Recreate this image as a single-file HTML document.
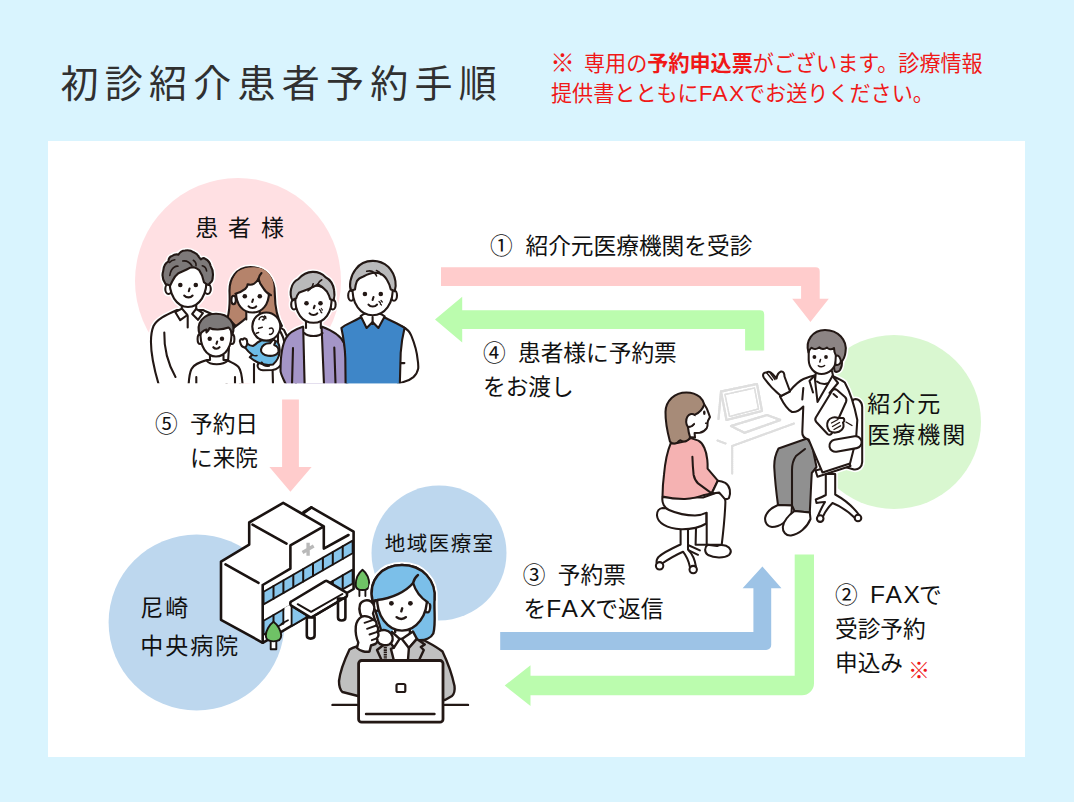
<!DOCTYPE html>
<html lang="ja">
<head>
<meta charset="utf-8">
<title>初診紹介患者予約手順</title>
<style>
html,body{margin:0;padding:0;background:#d9f4fe;}
body{width:1074px;height:802px;overflow:hidden;position:relative;font-family:"Liberation Sans","Noto Sans CJK JP",sans-serif;}
svg{position:absolute;left:0;top:0;display:block;}
text{font-family:"Liberation Sans","Noto Sans CJK JP",sans-serif;}
.t{font-size:22.7px;font-weight:400;fill:#111;}
.title{font-size:38px;font-weight:400;fill:#303030;letter-spacing:6.25px;}
.red{font-size:21px;font-weight:400;fill:#f01818;}
.red .b{font-weight:700;}
.fx{font-size:24.5px;letter-spacing:1.8px;}
.fxr{font-size:22.5px;letter-spacing:1.4px;}
</style>
</head>
<body>
<svg width="1074" height="802" viewBox="0 0 1074 802">
<rect x="0" y="0" width="1074" height="802" fill="#d9f4fe"/>
<rect x="48" y="141" width="977" height="616" fill="#ffffff"/>
<!-- TITLE -->
<text class="title" x="60.5" y="97">初診紹介患者予約手順</text>
<text class="red" x="550.3" y="72" style="font-size:24.5px">※</text>
<text class="red" x="584" y="71" style="font-size:21.1px">専用の<tspan class="b">予約申込票</tspan>がございます。診療情報</text>
<text class="red" x="551" y="101.3" style="font-size:21.1px">提供書とともに<tspan class="fxr">FAX</tspan><tspan dx="-1.4">でお送りください。</tspan></text>
<!-- CIRCLES -->
<circle cx="238" cy="281" r="103" fill="#ffe0e3"/>
<circle cx="894" cy="422" r="87" fill="#d9f7d0"/>
<circle cx="196.6" cy="622.5" r="88" fill="#bdd7ee"/>
<circle cx="439" cy="553" r="67.5" fill="#bdd7ee"/>
<!-- ARROWS -->
<path id="a1" fill="#ffcccc" d="M441 267.2H815.7a4 4 0 0 1 4 4V298.8H828.8L810.4 321.9L792.2 298.8H801.1V286H441Z"/>
<path id="a4" fill="#bbfcae" d="M435 319.5L462.2 296.7V310.2H760.2a4 4 0 0 1 4 4V350.6H745.1V329H462.2V342.5Z"/>
<path id="a5" fill="#ffcccc" d="M282.1 399.5H298.9V467.1H311.6L290.4 491.8L269.4 467.1H282.1Z"/>
<path id="a3" fill="#9dc3e6" d="M500.2 632H753.4V588.3H742.6L762.4 566.5L781.5 588.3H771.2V645a5 5 0 0 1 -5 5H500.2Z"/>
<path id="a2" fill="#bbfcae" d="M794.7 554.6H814V683.3a12 12 0 0 1 -12 12H530.5V706.1L504.7 685.5L530.5 665.3V675.8H794.7Z"/>
<!-- LABELS -->
<text class="t" x="195.2" y="235.8" style="font-size:23px;letter-spacing:9.9px">患者様</text>
<text class="t" x="490" y="254">①</text><text class="t" x="525.5" y="254">紹介元医療機関を受診</text>
<text class="t" x="483" y="361">④</text><text class="t" x="518" y="361">患者様に予約票</text>
<text class="t" x="483" y="395">をお渡し</text>
<text class="t" x="155" y="432">⑤</text><text class="t" x="190" y="432">予約日</text>
<text class="t" x="190" y="466">に来院</text>
<text class="t" x="522.8" y="583">③</text><text class="t" x="557.8" y="583">予約票</text>
<text class="t" x="523.5" y="617">を<tspan class="fx">FAX</tspan><tspan dx="-2.6">で返信</tspan></text>
<text class="t" x="835" y="603">②</text><text class="t" x="870" y="603"><tspan class="fx">FAX</tspan><tspan dx="-2.6">で</tspan></text>
<text class="t" x="835" y="637">受診予約</text>
<text class="t" x="835" y="671">申込み</text>
<text class="red" x="908" y="678" style="font-size:22px">※</text>
<text class="t" x="867.2" y="412.4" style="font-size:23px;letter-spacing:2px">紹介元</text>
<text class="t" x="867.2" y="442.8" style="font-size:23px;letter-spacing:2px">医療機関</text>
<text class="t" x="384.8" y="550.9" style="font-size:20.5px;letter-spacing:1.45px">地域医療室</text>
<text class="t" x="140.3" y="616" style="font-size:23px;letter-spacing:2px">尼崎</text>
<text class="t" x="140.3" y="654" style="font-size:23px;letter-spacing:2px">中央病院</text>
<!-- ILLUSTRATIONS -->
<clipPath id="cf"><rect x="100" y="200" width="400" height="183.3"/></clipPath>
<defs><g id="famS">
<!-- father body -->
<path d="M177,310 C166,315 157,319 153.5,326 C149,337 149.5,356 161,392 L240,392 L240,330 C232,322 215,316 203,310 Z"/>
<path d="M181.5,303 L181.5,312 L187.7,316 L196,312 L196,303 Z" stroke="none"/>
<path d="M181.8,304 L181.8,309 M196.2,303 L196.2,309" fill="none"/>
<path d="M182,308.6 L175.2,312 L180.2,320.2 L187.4,315 Z"/>
<path d="M196.1,308.8 L202.9,313.2 L198,319.8 L192.2,314 Z"/>
<path d="M187.7,316 V327.5 M164.3,332.5 C164,345 167,362 175.5,377" fill="none"/>
<!-- father head -->
<ellipse cx="168.5" cy="289" rx="3.2" ry="5"/><ellipse cx="207.6" cy="289" rx="3.2" ry="5"/>
<path d="M169.8,276 C168,295 177,307 188,307 C199,307 208,295 206.3,276 C200,262 176,262 169.8,276 Z"/>
<path fill="#7d7979" d="M165.5,284 C162.5,279.5 162,274.5 163.2,271 C163.5,266 165.5,263 168.4,261.5 C168.5,258.5 170,256.6 172,256 C174,254.5 176.5,254.2 178.5,254.6 C180,252 182.5,250.6 185,250.5 C188,249.9 191.5,250.7 193.7,252.3 C196,253.2 198,255 198.8,256.8 L200.8,259.4 C202.3,258 204.3,258 205.5,259 C208.5,260.5 210,263 210.6,265.8 C212.5,269 213.3,273 212.8,276.5 C212.8,279.5 212,281.5 210.6,282.5 L208.3,285 C206.8,284.5 205.3,283.5 204,282.3 C203.2,277.5 201.6,273.5 199.3,270.3 C197.5,268.5 195.5,267.5 193.7,267.2 L189.8,267.8 C186,270 182,271.5 178.5,273.2 C175.5,275.5 173.5,278.3 172.4,281 L170.2,285.5 Z"/>
<path fill="none" stroke-width="1.6" d="M169.8,275.5 C170.3,272 172,268.5 174.5,267 C175.5,266.3 176.8,266 178,266.2 M182.7,261 C186.5,260.5 190,262.5 192,266 M193.3,260.3 C195.3,261.5 196.3,263.5 196,265.8 M202.3,265.8 C204.8,266.5 206.3,268.5 206.6,271 M169.5,262.5 C171,260.5 173,259.8 174.8,259.7"/>
<circle cx="180.3" cy="285" r="2.3" fill="#231815" stroke="none"/><circle cx="195.8" cy="285" r="2.3" fill="#231815" stroke="none"/>
<path fill="none" d="M189.6,288.5 L188.8,291.2 M184.2,295.5 C186.5,298 190.5,298 192.6,295.5"/>
<!-- mother hair back -->
<path fill="#b5836b" d="M250.5,267 C236,267 229,279 229.5,292 C230,303 229.5,311 227.5,318 L240,330 L262,330 L282,326 C276.5,317 275,306 274.8,294 C275,279 266,267 250.5,267 Z"/>
<!-- mother body -->
<path d="M246,318 C240,324 234,326 230,332 L226,392 L296,392 C296,365 292,345 284,330 C277,324 266,322 260,318 Z"/>
<path d="M246.5,309 L246.5,320 C250,323 256,323 259.5,320 L259.5,309 Z" stroke="none"/>
<path d="M246.3,311 L246.3,319.5 M259.7,311 L259.7,319" fill="none"/>
<!-- mother face -->
<ellipse cx="233.6" cy="300" rx="2.2" ry="4.2"/>
<path d="M236,292 C236,305 243,312.5 252.5,312.5 C262,312.5 269,305 269,292 C269,280 262,273 252.5,273 C243,273 236,280 236,292 Z"/>
<path fill="#b5836b" stroke="none" d="M258.5,278.7 C256.5,282.5 252.5,286 247.6,284.2 C247.6,286 246.6,287.8 245.3,288.8 C242.5,291 239,292.8 235.4,293.8 C231,287 232,277 238,271.5 C244,267 256,266 262.5,269 C270,272.5 274.5,281 273.5,289 C273.2,291.5 272.5,293.5 271,295.2 C267.5,293.5 264.8,291 263.2,288 C261,285.5 259.3,282.3 258.5,278.7 Z"/>
<path fill="none" d="M235.4,293.8 C239,292.8 242.5,291 245.3,288.8 C246.6,287.8 247.6,286 247.6,284.2 C252.5,286 256.5,282.5 258.5,278.7 C259.3,282.3 261,285.5 263.2,288 C264.8,291 267.5,293.5 271,295.2"/>
<path fill="none" d="M258.5,278.7 C259,276.5 260,274.5 261.5,273"/>
<circle cx="244.8" cy="296.3" r="2.3" fill="#231815" stroke="none"/><circle cx="259.8" cy="296.3" r="2.3" fill="#231815" stroke="none"/>
<path fill="none" d="M253,299.5 L252.2,302 M248.6,306.3 C250.5,308.6 254.5,308.6 256.2,306.3"/>
<!-- boy -->
<path d="M207,360 C199,362.5 193.5,364.5 191.5,369 C189.5,373 188.6,378 188.3,392 L243,392 C242.5,377 241,370 238.5,367 C236,364 231,362.5 227,360 Z"/>
<path d="M210,352 V360.5 C213,365 221,365 223.5,360.5 V352 Z" stroke="none"/>
<path fill="none" d="M210,355 V360 M223.5,355 V360 M206.5,360.5 C210,365.5 223,365.5 227.8,360.5 M196.3,377 V392 M235,377 V392"/>
<ellipse cx="200.2" cy="339" rx="2.6" ry="5"/><ellipse cx="231.8" cy="339" rx="2.6" ry="5"/>
<path d="M200.8,330 C199,347 207,356.5 216,356.5 C225,356.5 233,347 231.2,330 C226,318 206,318 200.8,330 Z"/>
<path fill="#7d7979" d="M199.8,335 C195.5,323 203.5,313.8 216,313.8 C228.5,313.8 236.5,323 232.3,335 C231.5,331.5 230.5,329 228.5,327.5 C222,330 213,330 209.5,328 C209,330 208,331.5 206.5,332.5 L206.5,329.5 C203.5,330.5 201,332.5 199.8,335 Z"/>
<circle cx="209.7" cy="338.8" r="2.2" fill="#231815" stroke="none"/><circle cx="222" cy="338.8" r="2.2" fill="#231815" stroke="none"/>
<path fill="none" d="M217.2,341.5 L216.5,343.8 M213.3,347.2 C215,349.2 218,349.2 219.6,347.2"/>
<!-- mother arm & baby -->
<path d="M278,328 C282.5,334 285,342 285.3,348.5 C285.6,354.5 284.6,359 283,362 C280.5,366.5 276.5,369.5 272.6,370 L263,370.3 C259.5,370 257.3,368 257.6,365.5 C257.8,363.5 259.5,362.3 261.5,362.5 L268,360 L278,345 Z"/>
<path fill="#6cbbe6" d="M246.8,343.2 C249,345 251,346 252.8,346 C254.5,345.3 256,344 257.5,342.5 L262,340 L277.5,341.5 C279.5,345 280,349 279.5,352.5 C279,357 276.5,361.5 273,364.5 C268,365.5 262.5,364.5 258.5,362.8 C255.5,361.5 252.5,359.5 249.8,357.3 L252.3,354.8 C249.5,352.8 247,350.3 245,347.5 Z"/>
<path fill="none" stroke-width="1.5" d="M252.3,354.8 C254,355.8 255.5,356 257,355.5"/>
<path d="M240.3,342.8 C239,340.3 240.8,338.3 242.8,339.6 C243.8,337.6 246.8,338.3 247,340.8 C247.6,343.5 247,346 245,347.6 C242.8,347.3 240.8,345.3 240.3,342.8 Z"/>
<circle cx="266.3" cy="326.5" r="14"/>
<path fill="none" stroke-width="1.5" d="M259,319.5 C259.5,316.8 262.3,315.8 263.8,317.3 C265,318.8 263.8,320.5 262.5,319.8 M264.5,316 C265.5,316.5 266,317.5 265.8,318.5 M258.6,328.3 L262.3,327.3 M256.3,333.2 L258.6,332.5 M256.5,337.3 L257.6,338.3 M269.5,328.5 C272.6,327 274.6,330.3 272.6,333 C271.8,334 270.5,334.6 269.5,334.3"/>
<path d="M261,349.5 C261.5,345.5 265.5,343 270,343.3 L272.5,340.3 C274,339.3 275.8,340.5 275.2,342.5 L274.2,345 C277.2,346.2 279.2,349 278.3,352 C277.3,355 272.5,356.3 268,355.7 C264,355.2 260.6,353 261,349.5 Z"/>
<path fill="none" d="M261.8,362.5 C263,365 266,366.3 269,365.8 M254,364 V392 M272.6,370.2 L273.2,392"/>
<!-- grandmother -->
<path fill="#a495c7" d="M303.5,326.5 C296,329 289,332 286,338 C282,345 280.5,358 280.5,371 C281,376 285,381 289,392 L347,392 C348,370 347.5,352 344,343 C341,336 331,330 321.5,326.5 Z"/>
<path stroke="none" d="M303.5,325 L321.5,325 L324.5,392 L305,392 Z"/>
<path fill="none" d="M304.3,333 C308,337 319,337 322.5,333"/>
<path d="M306,318 V329 C309,334 317,334 320.8,329 V318 Z" stroke="none"/>
<path fill="none" d="M306,321 V328 M320.8,321 V328 M303.2,327 L304.8,392 M321.6,327 L324.3,392 M293,348 L291.8,392 M334.3,347.5 L335.8,392"/>
<ellipse cx="294" cy="304.5" rx="2.8" ry="5"/><ellipse cx="332.8" cy="304.5" rx="2.8" ry="5"/>
<path d="M295.5,296 C294,313 303,322.8 313.5,322.8 C324,322.8 333,313 331.3,296 C326,282 301,282 295.5,296 Z"/>
<path fill="#b9b9ba" d="M292.6,300.5 C290.5,297 290.3,292.5 291.1,288.9 C292,284.5 294.5,281 298.3,279.1 C302,275 307,272 312.6,271.9 C317.5,271.8 322.5,273.8 325.6,277.2 C330,279.5 333.3,284.5 334.1,290.2 C334.8,294 334.5,297.5 333.6,300.5 C332.5,299.8 331.2,299.4 330.2,299.3 C329.5,296.5 328.3,293.8 326.9,291.5 C324.5,288.5 321.5,286 317.8,284.3 C313.5,287.3 306,289.8 298.9,292.8 C297.5,294.5 296.7,296.3 296.3,298 C294.8,298.5 293.5,299.3 292.6,300.5 Z"/>
<path fill="none" stroke-width="1.6" d="M308,290.8 C310.5,289.5 312.5,287 313.2,283.7 M317.8,284.3 C318.6,282.3 320,280.8 321.8,279.8"/>
<circle cx="306.5" cy="303.3" r="2.3" fill="#231815" stroke="none"/><circle cx="320.5" cy="303.3" r="2.3" fill="#231815" stroke="none"/>
<path fill="none" d="M314.6,305.8 L313.8,308.2 M309.6,313.3 C311.5,315.6 315.5,315.6 317.3,313.3"/>
<path fill="none" stroke-width="1.2" d="M319.5,309.5 L321,311 M321.3,308.5 L322.5,310 M320.6,311.8 L321.8,312.8"/>
<!-- grandfather -->
<path d="M402,326.5 C406.5,328.5 409.8,331.5 411.3,335.7 C414.5,343.5 417,352 417.7,360.1 C418.2,363 418.4,366 418.2,368.6 C417.5,372 415.8,375 413.4,377.1 C411,379 408.5,380.5 405.5,381.3 L398,384 L398,330 Z"/>
<path d="M337,333 L343,326 L347,340 Z" stroke="none"/>
<path fill="#3e86c8" d="M360.4,317.5 C353,322 345,324.5 341.4,328 C343.5,338 345,348 345.3,358 L345.7,392 L399.6,392 L400.7,352.7 C401.3,344 402.8,335 404.6,327.8 C398,323.5 391,321 384.8,317.5 L372.6,324 Z"/>
<path d="M360.7,316 L366.6,328 L372.6,322 L378.4,328 L384.6,316.4 C381,313.5 376,312.5 372.6,312.5 C369,312.5 364,313.5 360.7,316 Z"/>
<path fill="none" d="M372.6,322 L372.6,317 M400.9,363.1 H404.4"/>
<ellipse cx="351.2" cy="295.5" rx="3" ry="5.2"/><ellipse cx="394" cy="295.5" rx="3" ry="5.2"/>
<path d="M352.8,286 C351,304 361,315.3 372.6,315.3 C384.2,315.3 394.2,304 392.5,286 C387,260 358,260 352.8,286 Z"/>
<path fill="#b9b9ba" d="M351.2,291 C349.8,288 349.8,284.5 350.4,281.1 C351.3,276.5 353,272.5 355.6,269.3 C359.5,264 365.5,260.9 372.6,260.9 C378.5,260.8 384,263 388.2,266.7 C392,270.5 394.5,275.5 395.4,281.1 C396,284.5 395.8,288 394.7,291.3 C393.5,290.3 392,289.7 390.8,289.5 C390,286 388.7,282.7 386.9,279.8 C385,276.5 382.5,274.3 379.3,273.3 C375,272 368.5,273.5 363.4,276.5 C360.5,277.5 358.2,279 356.9,281.1 C355.8,283.8 355.2,286.8 355,289.5 C353.5,289.7 352.2,290.2 351.2,291 Z"/>
<path fill="none" stroke-width="1.6" d="M366.7,271.3 C369.5,270.5 372.5,271 374,272.6 C375.3,273.6 376.2,274.7 376.5,275.9 M376.5,270.6 C378.5,271.3 380.2,272.8 381,274.6"/>
<circle cx="364.9" cy="294" r="2.3" fill="#231815" stroke="none"/><circle cx="380.8" cy="294" r="2.3" fill="#231815" stroke="none"/>
<path fill="none" d="M373.5,297 L372.6,300 M368.5,304.6 C370.5,307.2 375,307.2 377,304.6"/>
<path fill="none" stroke-width="1.2" d="M379,301.5 L380.5,303 M381,300.5 L382.3,302 M380.3,304 L381.5,305"/>
</g></defs>
<g id="family-halo" clip-path="url(#cf)" stroke="#ffffff" stroke-width="5.2" stroke-linecap="round" stroke-linejoin="round" fill="#fff"><use href="#famS"/></g>
<g id="family" clip-path="url(#cf)" stroke="#231815" stroke-width="2.1" stroke-linecap="round" stroke-linejoin="round" fill="#fff"><use href="#famS"/></g>

<defs><g id="cliS">
<!-- desk & laptop (faint) -->
<g stroke="#dedede" stroke-width="2.2" fill="none" stroke-dasharray="1.2 0.9">
<path d="M721,391.5 L757,384 L762,411 L726.5,420 Z"/>
<path d="M725,394.5 L754.5,388 L758.5,409 L729.5,416.5 Z" stroke-width="1.4"/>
<path d="M721,391.5 L718.5,419"/>
<path d="M731,426 L767,415 L780.5,420 L744.5,432.8 Z"/>
<path d="M717.5,440.5 L725.5,443.5 M732.2,446 L794,423.5 M732.2,446 V473.5" stroke-width="2"/>
</g>
<!-- patient stool -->
<path d="M680.6,527 V544.5 C673,548 664,552 658.5,557 C656.5,559.5 656,562 657,564 L662,563.5 C668,559.5 676,554.8 683,551.7 C686.5,556 688.8,561.5 690,567.3 L696,567 C695,560 692.5,554 688,549.5 V527 Z"/>
<path d="M688,545 L699.9,550.4 M688.8,550.3 L698,554.8" fill="none"/>
<circle cx="659.6" cy="565.8" r="3.7"/><circle cx="693.2" cy="569.6" r="3.7"/>
<!-- patient back leg -->
<path d="M696.2,520 L695.6,544.8 H708 V520 Z"/>
<path d="M662.5,508 C659,508.5 656.8,511.5 657,515.5 C657.5,523 667,528.5 681,529.3 C691,529.5 700,527.3 706.4,523.5 L706.4,511 Z"/>
<!-- patient pants -->
<path d="M662.5,497 C661.5,503 664.5,508 669,510 C677,513.5 687,515.5 695,515.5 C699.5,515.3 703.5,514.3 706.7,512.7 L706.7,544.8 L721.7,544.8 C723.5,530 725,515 725.4,501.8 C725.3,497 722,493.5 717,492.5 L703,497.5 Z"/>
<!-- shoe -->
<path d="M707.5,544.8 C704.5,547 704,552.5 708,555 C714,558 724,558.5 729,555 C732.5,552 730.5,547.5 726,545.8 C722,544.5 719,544.8 717,546 Z"/>
<!-- patient neck -->
<path d="M688,430 L688,441 L697,441 L695,431 Z" stroke="none"/>
<!-- face -->
<path d="M699.5,400 C703.5,403 706.8,407.5 708.1,411.9 L710,417.1 L708,420.8 L707.5,423.1 C707.8,425.5 707.5,427 706.6,428.4 C704.8,430.8 702,432.4 699.8,432.8 L694.6,433.1 L695,437.6 L688,437 L686,412 Z"/>
<ellipse cx="704.3" cy="412.7" rx="1.3" ry="2.2" fill="#231815" stroke="none"/>
<path fill="none" stroke-width="1.4" d="M705.6,423.3 L707.6,423.1"/>
<!-- top -->
<path fill="#f5b2b2" d="M670.7,443.3 C667,452 665,463 664,474.7 C663,482 662.6,490 662.5,496.4 C670,498.3 678,499 684.9,498.9 C692,498.6 699,497 704.3,494.9 L711.5,493.4 L717.8,480.7 L707.6,468.7 C707.7,465.5 707.6,462.5 707.3,459.8 C706.8,455 705.8,451 704.3,447.8 C703,444.5 701,442 698.4,440.6 L690.9,438.1 C685,441.5 677,443.8 670.7,443.3 Z"/>
<path fill="none" d="M692.4,456.8 C692.6,463 693,469 693.6,474.7 C694.3,478.5 696,481.5 698.4,483.7 L711,492.9"/>
<!-- hand -->
<path d="M717.8,480.7 C720.5,481 723,481.7 725.3,482.9 C727.8,484.5 729.3,487 729.8,489.7 C730.3,492.5 730,495.5 729,497.9 C727.5,499.3 725.8,499.3 724.5,498.6 L719.3,492.6 L711.8,493.4 Z"/>
<!-- hair -->
<path fill="#a78b78" d="M686.4,392.5 C674.5,392.5 665.8,401 665.5,411.9 C665.3,422 667.5,432.5 670,441.8 C672.5,443.8 675.5,443.8 677.4,442.6 C678.3,441.5 679.3,440.7 680.4,440.3 C682.3,441.6 684.6,441.8 686.4,441 C688.3,440.3 689.6,439 690.1,437.3 C689,434 688.3,430.5 687.9,426.9 C690,427 692.5,426 694,424 C693,420.5 693.3,417.5 694.6,414.9 C699,413 702.8,409 704.3,404.4 C703.5,401.5 702,399 699.9,397 C696.3,394 691.5,392.5 686.4,392.5 Z"/>
<path stroke="none" d="M687.9,426.9 C685.8,424.5 685.5,419.8 687.5,416.5 C689.3,413.8 692.8,413.3 694.6,414.9 L696,420 L694,424.5 C692.5,426 690,427 687.9,426.9 Z"/>
<path fill="none" d="M694,424 C692.5,426 690,427 687.9,426.9 C685.8,424.5 685.5,419.8 687.5,416.5 C689.3,413.8 692.8,413.3 694.6,414.9"/>
<!-- doctor chair -->
<path d="M853.6,399.5 C858,398 862,401.5 862.2,407 L862.2,462 C862,467 858.5,470 854,469.5 L845,467 L845,410 Z"/>
<path d="M825.8,474 V495 C822.5,497 818.5,498.5 815.8,499.5 L816.5,503 C819.5,502.5 822.5,502 825,502 C822.5,506 820,511 818,516 L822.5,517.5 C825,511.5 829,506.5 832.5,503 C840,506 849,512 855.5,518.5 L859.5,515.5 C853,506.5 843.5,499 835.2,494.5 V474 Z"/>
<circle cx="820.2" cy="518.6" r="3.3"/><circle cx="858" cy="518" r="3.3"/>
<path d="M815.5,470.5 L848.5,461.5 L850.5,466 L817.5,476.8 Z"/>
<!-- doctor legs -->
<path fill="#909090" d="M807,438.5 L778.5,448.5 C775,455 774,462 774.3,468 C775,481 776.5,494 778,505 L792,505.5 L794.5,511 L809.8,512.5 C810.5,499 811,486 811.8,473 L816.5,467 L812,445 Z"/>
<path fill="none" d="M792,505 V470 C792,464 793.5,459.5 796,456 L805,449"/>
<path d="M778,505 C772,507.5 766.5,512 765.2,517.5 C764.5,522 767,526.5 772,527 C780,527 788,521 791.5,513 L792,505.5 Z"/>
<path d="M794.5,511 C789,515 783.5,521 782.8,527 C782.5,532 786,536 791,535.5 C799,534.5 807,527.5 810.5,519 L809.8,512.5 Z"/>
<!-- doctor neck/inner -->
<path d="M816,371 L814.5,386 L817.5,403 L835,385 L832,371 Z"/>
<path fill="none" d="M817,381.5 C821,385 828,385 832.5,381"/>
<!-- doctor coat -->
<path d="M803.5,379 C807,377.5 811,376 814.5,375.5 L817.5,402 L832.5,376 C837,378 841.5,380 844.8,382.5 C850,392 854.5,406 857.3,420 L856,440 L850,463.5 L822.5,472.5 C818,462 813,450 808.6,439.5 C804.5,438.5 802,436 802.3,432 L803.3,406.5 C800,410 796,412.5 792,412 C788,410 783.5,403.5 780,396.5 L789.8,391 C794,386 799,381 803.5,379 Z"/>
<path fill="none" d="M814.5,375.5 L809.5,381 L813,392.5 M832.5,376 L838,383 L829.5,393 M802.3,399.5 L803.3,388"/>
<!-- doctor left hand -->
<path d="M781,396 C776,392 769,385 764,378 C762,375 763.5,372 766.5,372.5 C768.5,371 771,372 772.5,374 L776.5,378.5 C777,375 778.5,372.5 781,371.5 C783.5,371 784.5,373.5 784.5,376.5 C786.5,382 788.5,387 790,391.5 Z"/>
<path fill="none" stroke-width="1.4" d="M766.5,372.5 L772.5,380 M769.5,372.2 L775,379.5"/>
<!-- tablet -->
<path d="M832.3,390.5 C833.5,389 835.5,389 837,390 L845,397 C846.5,398.5 846.8,400 846,402 L832,433 C831,435 829,435.3 827.5,434 L816.3,422 C815,420.5 815,419 815.8,417.5 Z"/>
<path fill="none" d="M833.5,394 L837,397"/>
<!-- doctor right hand -->
<path d="M828,421 C830,417.5 834.5,416.5 838,418 L843,418 C845,419 844.5,421.5 843,422.5 C844,425 843.5,428 841.5,430 C838.5,433 833,433.5 829.5,431 C827,428.5 826.5,424 828,421 Z"/>
<path fill="none" stroke-width="1.4" d="M831.5,423 L838,419.5 M832.5,426.5 L839.5,422.5 M834,429.5 L840.5,425.8 M846,422 L852,425.5"/>
<!-- armrest -->
<rect x="829.3" y="438" width="32.5" height="12" rx="6" transform="rotate(-10 845.5 444)"/>
<!-- doctor head -->
<path fill="#8c8484" d="M838,352 C842,357 843.5,364 840,370 C838.5,372 836,372.5 834.5,371 L833,358 Z"/>
<path d="M808.7,348 L808.7,360 C809,368 814.5,374 821.5,374 C829,374 835,368.5 836,361 L838,348 Z"/>
<path d="M835.8,356 C838.5,353.5 842.2,355 842,359 C841.8,363 838.5,366 835.3,364.5 Z"/>
<path fill="#8c8484" d="M808.5,352.5 C805,341 812.5,330 825,330 C838,330 847.5,340 845.5,352 C845,357 843,360.5 840.8,362.5 C841,358 838.5,354.5 836,355.8 C834.5,353 834,350.5 834,348 C831.5,350 828.5,349.5 827,347.5 C824.5,349.5 821,349.3 819.5,347.3 C817,349.3 813.5,349.5 811.5,347.8 C810,349 809,350.5 808.5,352.5 Z"/>
<circle cx="814.4" cy="357" r="1.9" fill="#231815" stroke="none"/><circle cx="826" cy="357" r="1.9" fill="#231815" stroke="none"/>
<path fill="none" stroke-width="1.5" d="M820.5,359.5 L819.8,362 M818.3,365.8 C820,367.3 823,367 824.6,365.5"/>
</g></defs>
<g id="clinic-halo" stroke="#ffffff" stroke-width="5.2" stroke-linecap="round" stroke-linejoin="round" fill="#fff"><use href="#cliS"/></g>
<g id="clinic" stroke="#231815" stroke-width="2.05" stroke-linecap="round" stroke-linejoin="round" fill="#fff"><use href="#cliS"/></g>

<g id="hospital" stroke="#1a1311" stroke-width="2.6" stroke-linecap="round" stroke-linejoin="round" fill="#fff">
<path d="M221.0,561.6 L249.2,544.6 L249.2,522.5 L283.2,502.9 L302.5,514.0 L311.4,507.4 L353.6,531.7 L353.6,589.0 L262.7,642.8 L221.0,619.8 Z"/>
<path fill="#88c6ec" stroke-width="1.8" d="M263.6,591.8 L352.6,540.6 L352.6,553.2 L263.6,604.4 Z"/>
<path fill="none" stroke-width="2" d="M273.5,586.1 V598.7 M283.4,580.4 V593.0 M293.3,574.7 V587.3 M303.2,569.0 V581.6 M313.0,563.4 V576.0 M322.9,557.7 V570.3 M332.8,552.0 V564.6 M342.7,546.3 V558.9"/>
<path fill="#88c6ec" stroke-width="1.8" d="M263.6,620.8 L352.6,569.6 L352.6,583.6 L263.6,634.8 Z"/>
<path fill="none" stroke-width="2" d="M273.5,615.1 V629.1 M283.4,609.4 V623.4 M293.3,603.7 V617.7 M303.2,598.0 V612.0 M313.0,592.4 V606.4 M322.9,586.7 V600.7 M332.8,581.0 V595.0 M342.7,575.3 V589.3"/>
<path stroke="none" d="M284.5,607.8 L291,604.0 L291,621.0 L284.5,624.8 Z"/>
<path fill="none" stroke-width="1.8" d="M281.5,623.8 L288,620.3"/>
<path fill="#88c6ec" stroke-width="1.8" d="M291.6,606 L306.4,615.3 L306.4,617.4 L291.6,626 Z"/>
<path fill="none" d="M262.7,585 V642.8 M262.7,585 L290.4,568.6 V545.4 L323.8,526.4 V548.6 L348.5,535 M225.5,564.3 L258.5,582.8 M252.5,524.6 L286.5,543.6 M303.5,512.2 L311.4,507.4 M303.5,514.6 L323.8,526.4"/>
<path fill="none" stroke="#b9b9b9" stroke-width="3.4" stroke-linecap="butt" d="M308.1,542.8 V555.8 M302.5,552.5 L313.70000000000005,546.0999999999999"/>
<path d="M291.3,601.5 L325.2,581.2 Q326.2,580.6 327.2,581.2 L346,592.3 Q347,593 347,594.2 V595.5 Q347,596.5 346,597 L312.2,617 Q311.1,617.6 310,617 L291.3,605.6 Q290.3,605 290.3,603.8 V603 Q290.3,602 291.3,601.5 Z"/>
<path fill="none" stroke-width="2" d="M297.7,604.2 L311.1,611.8 L342.4,594"/>
<path d="M306.8,617.5 V635.5 Q306.8,638.6 310.7,638.6 Q314.6,638.6 314.6,635.5 V617.5 Z"/>
<path d="M338,598.5 V617.5 Q338,620.5 341.7,620.5 Q345.4,620.5 345.4,617.5 V598.5 Z"/>
<path fill="none" d="M312.2,617 L346,597"/>
<path d="M270.7,640.4 V649.2 H276.3 V640.4 Z" stroke-width="1.9"/><path fill="#6fc266" stroke-width="1.9" d="M273.5,621.8 C277.7,624.8 281.2,630.6 281.2,635.6 C281.2,640.4 278.1,641.4 273.5,641.4 C268.9,641.4 265.8,640.4 265.8,635.6 C265.8,630.6 269.3,624.8 273.5,621.8 Z"/>
<path fill="none" d="M359.4,589 V596 M365.4,589 V596" stroke-width="1.9"/><path fill="#6fc266" stroke-width="1.9" d="M362.5,569.7 C366.2,572.7 369.3,578.8 369.3,584.9 C369.3,589.0 366.6,590.0 362.5,590.0 C358.4,590.0 355.7,589.0 355.7,584.9 C355.7,578.8 358.8,572.7 362.5,569.7 Z"/>
</g>
<g id="operator" stroke="#231815" stroke-width="2.4" stroke-linecap="round" stroke-linejoin="round" fill="#fff">
<!-- halo -->
<g stroke="#fff" stroke-width="6.5" fill="#fff">
<path d="M372.5,601 C368,580 382,565 402,565 C422,565 436,580 434.5,600 C434,612 436,624 433.3,633.5 C431,638 425,640.5 418.7,640.3 L380,640 Z"/>
<path d="M376,642 C365,644 355,646 349.5,649.5 C344,661 340,672 339,681 C339,687 340,690 342.5,692 L358,696 L445,700 L452,696 C455,693 455,690 454.5,686 C452,674 447,661 442.5,651.5 C437,647 431,644 425.5,641.5 Z"/>
<path d="M361,604 C363,600.5 369,600 372,603 C375,606 374.5,611 372,615 L378,630 C382,628.5 388,629 392,633 C395.5,637 394,642 390,643.5 L378.5,643 L376,651 L362,651 C358,640 356,628 356.5,620 C357,614 359,609 361,604 Z"/>
<rect x="358.6" y="660.5" width="84.4" height="61.7" rx="3"/>
</g>
<!-- hair back -->
<path fill="#7bbfe9" d="M372.5,601 C368,580 382,565 402,565 C422,565 436,580 434.5,600 C434,612 436,624 433.3,633.5 C431,638 425,640.5 418.7,640.3 L384,640 Z"/>
<!-- jacket -->
<path fill="#c0c0c0" d="M379,640.5 C367,643.5 355,646 349.5,649.5 C344,661 340,672 339,681 C339,687 340,690 342.5,692 L358,696 L445,700 L452,696 C455,693 455,690 454.5,686 C452,674 447,661 442.5,651.5 C437,647 431,644 424.5,640.5 Z"/>
<!-- shirt -->
<path d="M393,630 L383,648 L392.5,661 L411.5,661 L421,644 L412,630 Z" stroke="none"/>
<!-- neck -->
<path fill="none" d="M395.2,629 V632 M409.8,629 V632"/>
<!-- collar -->
<path d="M391.9,631.9 L399.6,638.9 L393.9,647.6 L388.9,640.9 Z"/>
<path d="M412.9,631.4 L416.9,638.9 L408.9,648 L401.9,638.9 Z"/>
<path fill="none" d="M399.6,638.9 L401.9,638.9"/>
<!-- lapels -->
<path fill="#c0c0c0" d="M416.9,638.9 L424.8,644.4 L420.8,647 L423.8,650 L418.7,661 L407.9,661 L408.9,648 Z"/>
<path fill="#c0c0c0" d="M388.9,640.9 L377,650 L382,661 L394,661 L390.9,648.9 L393.9,647.6 Z"/>
<!-- cord -->
<path fill="none" stroke-width="3.2" stroke-linecap="butt" stroke-dasharray="1.6 0.7" d="M385.3,647 V661"/>
<!-- face -->
<ellipse cx="376.8" cy="605.5" rx="2.9" ry="5.4"/><ellipse cx="427.3" cy="607" rx="2.9" ry="5.4"/>
<path d="M377.2,596 C376,616 388,630.6 402,630.6 C416,630.6 428.2,616 426.8,596 C421,576 383,576 377.2,596 Z"/>
<!-- hair front -->
<path fill="#7bbfe9" stroke="none" d="M372.7,601.5 C367.5,580 382,565 402,565 C422,565 436.5,580 434.5,600 L430.5,603.5 C429.5,603 428.5,602.6 427.7,602.3 C421,598 415.5,591 413.1,583 C406,591.5 392,598.5 377,600 C375.5,600 374,600.5 372.7,601.5 Z"/>
<path fill="none" d="M372.7,601.5 C367.5,580 382,565 402,565 C422,565 436.5,580 434.5,600 M427.7,602.3 C421,598 415.5,591 413.1,583 C406,591.5 392,598.5 377,600 C375.5,600 374,600.5 372.7,601.5"/>
<path fill="none" d="M413.1,583 C413.8,580 415.5,577 418,575"/>
<circle cx="391.4" cy="603.3" r="2.4" fill="#231815" stroke="none"/><circle cx="410.4" cy="603.3" r="2.4" fill="#231815" stroke="none"/>
<path fill="none" d="M402.2,608.3 L401.3,611.3 M396.6,617.2 C399,619.6 403.5,619.6 405.9,617.2"/>
<!-- phone -->
<path d="M360,604.5 C361.5,600.5 367,599 371,601.5 C374.5,604 375,609 373,613.5 L378.5,631.5 C382.5,629 388,629.8 391,633.5 C394,637.5 393,642.5 389,644.5 C385,646.3 380,645 377.5,641.5 L364,620 C360,616 358.5,609.5 360,604.5 Z"/>
<!-- hand -->
<path d="M362,616.5 C358.5,618.5 356.3,622 355.8,626.5 C355.3,632 356.3,638 358.3,642.5 L357,648 C360,651 365.5,652.5 369.5,651.5 L371,645.5 L375.3,644 C377.5,642.5 378,640 376.8,638.3 C379,636.3 379,633.3 377.3,631.8 C378.8,629.5 378.3,626.8 376.3,625.5 C377.3,622.8 375.8,620.3 373.3,619.8 C370,617 365.5,615.5 362,616.5 Z"/>
<path fill="none" stroke-width="1.9" d="M364.5,622.8 L373.3,619.8 M367,628.8 L376.3,625.5 M369.5,634.5 L377.3,631.8 M371.8,640.2 L376.8,638.3"/>
<!-- desk line -->
<path fill="none" d="M332.5,704.9 H357 M445,704.9 H468"/>
<!-- laptop -->
<rect x="358.6" y="660.5" width="84.4" height="61.7" rx="3" stroke-width="2.8"/>
<rect x="396.5" y="684" width="8.8" height="8" rx="1.6" stroke-width="2.2"/>
<path fill="none" stroke-width="2.4" d="M366,714 H434.5"/>
</g>

</svg>
</body>
</html>
